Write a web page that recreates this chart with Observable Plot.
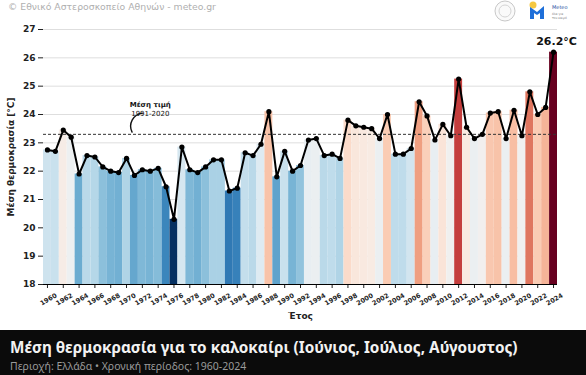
<!DOCTYPE html>
<html><head><meta charset="utf-8">
<script src="https://cdn.jsdelivr.net/npm/d3@7"></script>
<script src="https://cdn.jsdelivr.net/npm/@observablehq/plot@0.6"></script>
<style>
body{margin:0;width:586px;height:375px;overflow:hidden;background:#fff;position:relative;font-family:"DejaVu Sans",sans-serif}
#hdr{position:absolute;left:8px;top:1px;font-size:9.3px;color:#b0b0b0;font-family:"DejaVu Sans",sans-serif}
#logos{position:absolute;left:486px;top:0px}
#chart{position:absolute;left:0;top:18px}
#band{position:absolute;left:0;top:330px;width:586px;height:45px;background:#0b0b0b}
#title{position:absolute;left:10px;top:7px;color:#f2f2f2;font:bold 15.3px "Noto Sans",sans-serif;white-space:nowrap}
#sub{position:absolute;left:10px;top:29px;color:#9a9a9a;font:10.5px "Noto Sans",sans-serif;white-space:nowrap}
</style></head>
<body>
<div id="hdr">© Εθνικό Αστεροσκοπείο Αθηνών - meteo.gr</div>
<svg id="logos" width="100" height="26">
  <circle cx="19" cy="11" r="10" fill="#fafafa" stroke="#c8c8c8" stroke-width="1"/>
  <circle cx="19" cy="11" r="6" fill="none" stroke="#d4d4d4" stroke-width="1"/>
  <circle cx="47" cy="5" r="3.5" fill="#f5c842"/>
  <path d="M44 19 L44 7 L51 12 L58 6 L58 19 L54 19 L54 13 L51 15 L48 13 L48 19 Z" fill="#1e6fd9"/>
  <text x="66" y="9" font-size="5" fill="#1e4fa0" font-family="DejaVu Sans">Meteo</text>
  <text x="66" y="15" font-size="3" fill="#777" font-family="DejaVu Sans">όλα για</text>
  <text x="66" y="19" font-size="3" fill="#777" font-family="DejaVu Sans">τον καιρό</text>
</svg>
<div id="chart"></div>
<div id="band">
  <div id="title">Μέση θερμοκρασία για το καλοκαίρι (Ιούνιος, Ιούλιος, Αύγουστος)</div>
  <div id="sub">Περιοχή: Ελλάδα • Χρονική περίοδος: 1960-2024</div>
</div>
<script>
const years = [1960,1961,1962,1963,1964,1965,1966,1967,1968,1969,
  1970,1971,1972,1973,1974,1975,1976,1977,1978,1979,
  1980,1981,1982,1983,1984,1985,1986,1987,1988,1989,
  1990,1991,1992,1993,1994,1995,1996,1997,1998,1999,
  2000,2001,2002,2003,2004,2005,2006,2007,2008,2009,
  2010,2011,2012,2013,2014,2015,2016,2017,2018,2019,
  2020,2021,2022,2023,2024];
const temps = [22.75,22.7,23.45,23.2,21.9,22.55,22.5,22.15,22.0,21.95,
  22.45,21.85,22.05,22.0,22.1,21.45,20.3,22.85,22.05,21.95,
  22.15,22.4,22.4,21.3,21.4,22.65,22.55,22.95,24.1,21.8,
  22.7,22.0,22.2,23.1,23.15,22.55,22.6,22.45,23.8,23.6,
  23.55,23.5,23.15,24.0,22.6,22.6,22.8,24.45,23.95,23.1,
  23.65,23.25,25.25,23.55,23.15,23.3,24.05,24.1,23.15,24.15,
  23.25,24.8,24.0,24.25,26.2];
const meanValue = 23.3;
const meanTitle = "Μέση τιμή";
const meanPeriod = "1991-2020";
const yTicks = [18,19,20,21,22,23,24,25,26,27];
const xTicks = [1960,1962,1964,1966,1968,1970,1972,1974,1976,1978,1980,1982,1984,1986,1988,1990,1992,1994,1996,1998,2000,2002,2004,2006,2008,2010,2012,2014,2016,2018,2020,2022,2024];
const yLabel = "Μέση θερμοκρασία [°C]";
const xLabel = "Έτος";
// annotation anchor (data units)
const noteX = 1973, noteY1 = 24.36, noteY2 = 24.04;
const arrowFrom = {x: 1970.7, y: 23.38}, arrowTo = {x: 1972.0, y: 24.05};

const data = years.map((year, i) => ({year, temp: temps[i]}));
const last = data[data.length - 1];

const chart = Plot.plot({
  width: 586, height: 310,
  marginTop: 11, marginBottom: 44, marginLeft: 43, marginRight: 29,
  style: {fontFamily: "DejaVu Sans, sans-serif", background: "transparent", color: "#222"},
  x: {type: "linear", domain: [years[0] - 0.5, years[years.length - 1] + 0.5]},
  y: {domain: [yTicks[0], yTicks[yTicks.length - 1]]},
  color: {type: "diverging", scheme: "RdBu", reverse: true, pivot: meanValue, domain: [meanValue - 2.8, meanValue + 2.8]},
  marks: [
    Plot.gridY(yTicks, {stroke: "#dedede", strokeOpacity: 1}),
    Plot.rectY(data, {x1: d => d.year - 0.5, x2: d => d.year + 0.5, y1: yTicks[0], y2: "temp", fill: "temp"}),
    Plot.ruleY([meanValue], {stroke: "#333", strokeDasharray: "3,2", strokeWidth: 1}),
    Plot.line(data, {x: "year", y: "temp", stroke: "#000", strokeWidth: 2}),
    Plot.dot(data, {x: "year", y: "temp", fill: "#000", r: 2.6}),
    Plot.axisY(yTicks, {tickSize: 5, tickPadding: 3, fontSize: 9, fontWeight: "bold", tickFormat: d => String(d),
      label: yLabel, labelAnchor: "center", labelArrow: "none", labelOffset: 36}),
    Plot.axisX(xTicks, {tickSize: 4, text: null, fontSize: 9, fontWeight: "bold",
      label: xLabel, labelAnchor: "center", labelArrow: "none", labelOffset: 34}),
    Plot.text(xTicks, {x: d => d, y: yTicks[0], text: d => String(d), rotate: -30, dy: 15, dx: 1,
      fontSize: 6.5, fontWeight: "bold", fill: "#222"}),
    Plot.ruleY([yTicks[0]], {stroke: "#000", strokeWidth: 1}),
    Plot.text([last], {x: "year", y: "temp", text: d => d.temp.toFixed(1) + "°C", dy: -11, dx: 3, fontSize: 11, fontWeight: "bold", fill: "#111"}),
    Plot.arrow([0], {x1: () => arrowFrom.x, y1: () => arrowFrom.y, x2: () => arrowTo.x, y2: () => arrowTo.y,
      bend: 55, headLength: 0, stroke: "#111", strokeWidth: 1.4, insetStart: 0, insetEnd: 0}),
    Plot.text([meanTitle], {x: () => noteX, y: () => noteY1, text: d => d, fontSize: 7, fontWeight: "bold", fill: "#111"}),
    Plot.text([meanPeriod], {x: () => noteX, y: () => noteY2, text: d => d, fontSize: 7, fill: "#111"})
  ]
});
document.getElementById("chart").append(chart);
</script>
</body></html>
